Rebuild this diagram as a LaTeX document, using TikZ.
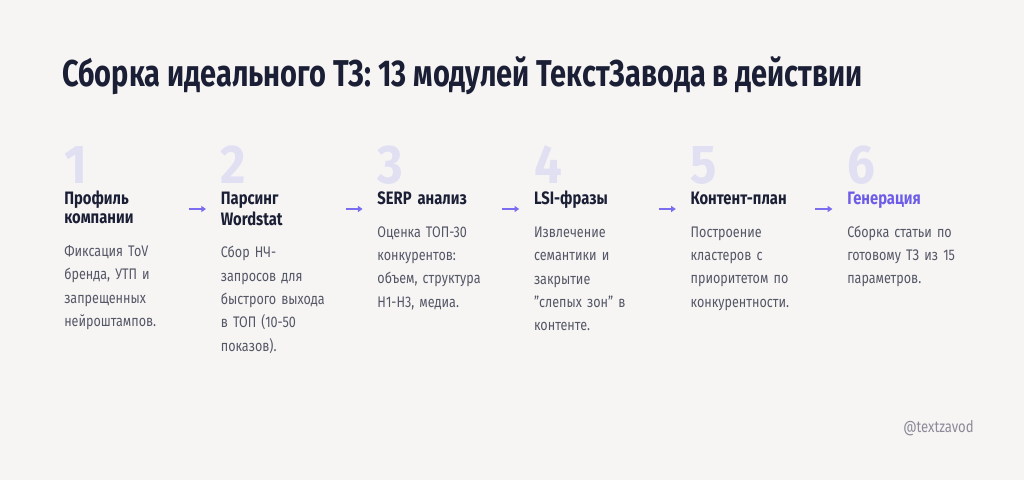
\documentclass[tikz,border=0pt]{standalone}
\usepackage{fontspec}
\setmainfont{Fira Sans}[FakeStretch=0.82]
\newfontfamily\titlefont{Fira Sans}[FakeStretch=0.776]
\newfontfamily\numfont{Fira Sans}[FakeStretch=0.9]
\usetikzlibrary{positioning, arrows.meta}

\definecolor{bgcol}{HTML}{F6F5F3}
\definecolor{navy}{HTML}{1B1F36}
\definecolor{greytext}{HTML}{555767}
\definecolor{numcol}{HTML}{E1E0F3}
\definecolor{violet}{HTML}{6C5CE7}
\definecolor{arrowcol}{HTML}{7A6DF0}
\definecolor{handlecol}{HTML}{8C8A99}

\tikzset{
	steptitle/.style={anchor=base west, inner sep=0pt, text=navy,
		font=\titlefont\bfseries\fontsize{28}{32}\selectfont},
	stepnum/.style={anchor=base west, inner sep=0pt, text=numcol,
		text depth=0pt, font=\numfont\bfseries\fontsize{41}{44}\selectfont},
	stephead/.style={anchor=north west, inner sep=0pt, text=navy, align=left,
		text width=110pt, font=\bfseries\fontsize{13.5}{14.25}\selectfont,
		execute at begin node=\strut, execute at end node=\strut},
	stepbody/.style={below=7.5pt of #1.south west, anchor=north west,
		inner sep=0pt, text=greytext, align=left, text width=110pt,
		font=\fontsize{11.5}{17.5}\selectfont,
		execute at begin node=\strut, execute at end node=\strut},
	flow/.style={-{Triangle[length=3.5pt, width=4.5pt]}, arrowcol, line width=1.1pt}
}

\begin{document}
\begin{tikzpicture}[x=0.75pt, y=0.75pt]
	\def \colw {156.6}
	\def \colx {64}

	\fill[bgcol] (0,0) rectangle (1024,480);
	\useasboundingbox (0,0) rectangle (1024,480);

	\node[steptitle] (title) at (62,394)
		{Сборка идеального ТЗ: 13 модулей ТекстЗавода в действии};

	% step numbers
	\foreach \i in {1,...,6}
		\node[stepnum] (num\i) at ({\colx + \colw*(\i-1)}, 297) {\i};

	% headings
	\node[stephead] (head1) at ({\colx + \colw*0}, 289) {Профиль\\компании};
	\node[stephead] (head2) at ({\colx + \colw*1}, 289) {Парсинг\\Wordstat};
	\node[stephead] (head3) at ({\colx + \colw*2}, 289) {SERP анализ};
	\node[stephead] (head4) at ({\colx + \colw*3}, 289) {LSI-фразы};
	\node[stephead] (head5) at ({\colx + \colw*4}, 289) {Контент-план};
	\node[stephead, text=violet] (head6) at ({\colx + \colw*5}, 289) {Генерация};

	% descriptions
	\node[stepbody=head1] (body1)
		{Фиксация ToV\\бренда, УТП и\\запрещенных\\нейроштампов.};
	\node[stepbody=head2] (body2)
		{Сбор НЧ-\\запросов для\\быстрого выхода\\в ТОП (10-50\\показов).};
	\node[stepbody=head3] (body3)
		{Оценка ТОП-30\\конкурентов:\\объем, структура\\H1-H3, медиа.};
	\node[stepbody=head4] (body4)
		{Извлечение\\семантики и\\закрытие\\"слепых зон" в\\контенте.};
	\node[stepbody=head5] (body5)
		{Построение\\кластеров с\\приоритетом по\\конкурентности.};
	\node[stepbody=head6] (body6)
		{Сборка статьи по\\готовому ТЗ из 15\\параметров.};

	% arrows between steps
	\foreach \i in {1,...,5} {
		\coordinate (arr\i a) at ({\colx + \colw*(\i-1) + 125}, 271);
		\coordinate (arr\i b) at ({\colx + \colw*(\i-1) + 142}, 271);
		\draw[flow] (arr\i a) -- (arr\i b);
	}

	\node[anchor=base west, inner sep=0pt, text=handlecol,
		font=\fontsize{12}{14}\selectfont] (handle) at (903,48) {@textzavod};
\end{tikzpicture}
\end{document}
